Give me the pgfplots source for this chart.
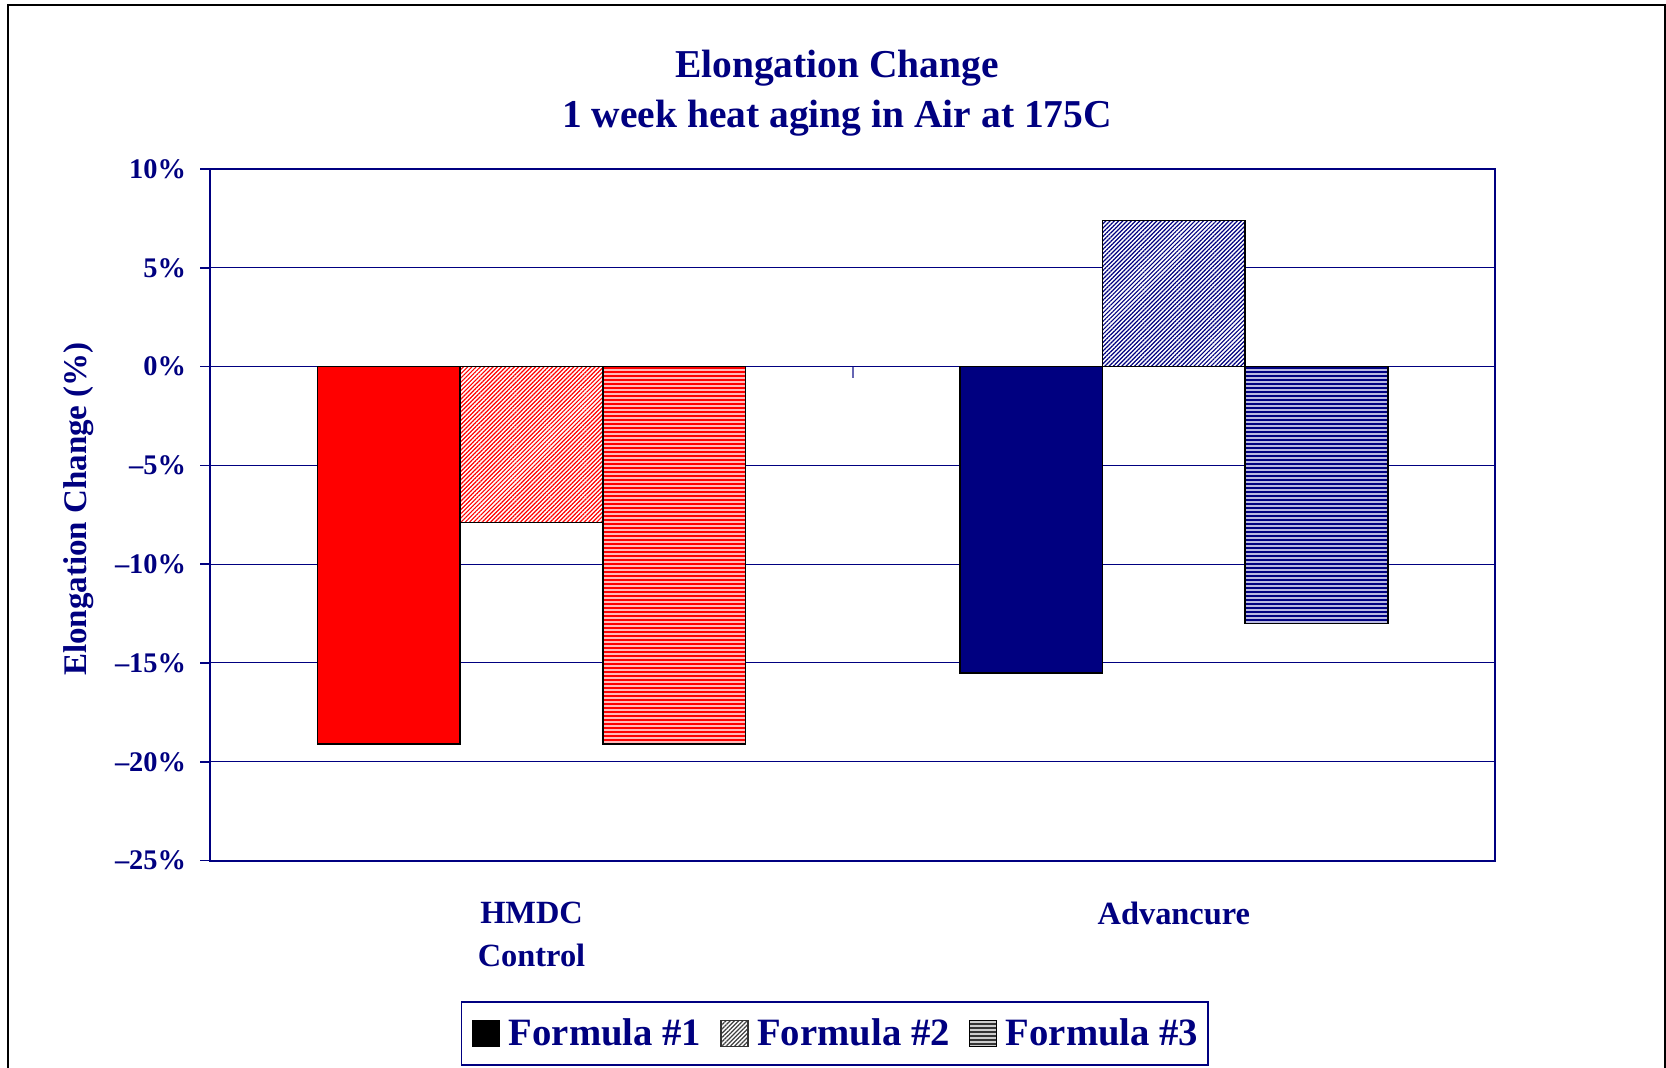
\documentclass[border=0pt]{standalone}
\usepackage{fontspec}
\setmainfont{Liberation Serif}
\usepackage{pgfplots}
\pgfplotsset{compat=1.18}
\usetikzlibrary{patterns.meta}
\definecolor{navy}{RGB}{0,0,128}
\definecolor{pinkbg}{RGB}{255,185,185}
\definecolor{lavbg}{RGB}{185,185,225}
\tikzset{
  diagpat/.style={pattern={Lines[angle=45,distance=1.5pt,line width=0.6pt]}},
  horizpat/.style={pattern={Lines[angle=0,distance=2pt,line width=0.9pt]}},
}
\begin{document}
\begin{tikzpicture}
\draw[black, line width=0.75pt] (4pt,-10pt) -- (4pt,531.5pt) -- (832.6pt,531.5pt) -- (832.6pt,-10pt);
\node[anchor=base, text=navy, font=\fontsize{19.75}{24}\selectfont\bfseries] at (418.5pt,495.25pt) {Elongation Change};
\node[anchor=base, text=navy, font=\fontsize{19.75}{24}\selectfont\bfseries] at (418.5pt,470.25pt) {1 week heat aging in Air at 175C};
\node[rotate=90, anchor=base, text=navy, inner sep=0pt, font=\fontsize{16.5}{20}\selectfont\bfseries] at (43pt,279.5pt) {Elongation Change (\%)};
\begin{axis}[
  at={(105.2pt,103.7pt)}, anchor=south west,
  scale only axis, width=642.3pt, height=345.8pt,
  xmin=-0.5, xmax=1.5, ymin=-25, ymax=10,
  ybar, bar width=0.2222,
  xtick={0,1}, xticklabels={{HMDC\\Control},{Advancure}},
  xtick style={draw=none}, xtick pos=bottom,
  xticklabel style={align=center, anchor=north, inner sep=0pt, yshift=-15.4pt, text=navy, font=\fontsize{16.2}{21.5}\selectfont\bfseries},
  ytick={-25,-20,...,10},
  yticklabels={--25\%,--20\%,--15\%,--10\%,--5\%,0\%,5\%,10\%},
  yticklabel style={anchor=east, inner sep=0pt, xshift=-7pt, text=navy, font=\fontsize{14.2}{16}\selectfont\bfseries},
  tick align=outside, major tick length=5pt, ytick pos=left,
  ytick style={navy, line width=0.75pt},
  ymajorgrids, major grid style={navy, line width=0.5pt},
  axis line style={navy, line width=1pt},
  legend columns=3,
  legend cell align=left,
  legend style={at={(axis description cs:0.4862,-0.25)}, anchor=center, draw=navy, line width=0.75pt,
    inner xsep=5pt, inner ysep=8.5pt,
    /tikz/every odd column/.append style={column sep=4.3pt},
    /tikz/every even column/.append style={column sep=9.5pt},
    nodes={inner sep=0pt, text height=13.5pt, text depth=1pt, text=navy, font=\fontsize{19.35}{22}\selectfont\bfseries}},
]
\addlegendimage{legend image code/.code={\draw[fill=black, draw=black, line width=0.75pt] (0pt,-6.5pt) rectangle (13.5pt,6.5pt);}}
\addlegendentry{Formula \#1}
\addlegendimage{legend image code/.code={\fill[white] (0pt,-6.5pt) rectangle (13.5pt,6.5pt); \fill[diagpat, pattern color=black!75] (0pt,-6.5pt) rectangle (13.5pt,6.5pt); \draw[black!80, line width=0.75pt] (0pt,-6.5pt) rectangle (13.5pt,6.5pt);}}
\addlegendentry{Formula \#2}
\addlegendimage{legend image code/.code={\fill[gray!40] (0pt,-6.5pt) rectangle (13.5pt,6.5pt); \fill[horizpat, pattern color=black!80] (0pt,-6.5pt) rectangle (13.5pt,6.5pt); \draw[black, line width=0.75pt] (0pt,-6.5pt) rectangle (13.5pt,6.5pt);}}
\addlegendentry{Formula \#3\hspace{3pt}}
% HMDC Control
\addplot[forget plot, bar shift=-0.2222, fill=red, draw=black, line width=0.8pt] coordinates {(0,-19.1)};
\addplot[forget plot, bar shift=0, fill=white, draw=none] coordinates {(0,-7.9)};
\addplot[forget plot, bar shift=0, diagpat, pattern color=red, draw=black, line width=0.8pt] coordinates {(0,-7.9)};
\addplot[forget plot, bar shift=0.2222, fill=pinkbg, draw=none] coordinates {(0,-19.1)};
\addplot[forget plot, bar shift=0.2222, horizpat, pattern color=red, draw=black, line width=0.8pt] coordinates {(0,-19.1)};
% Advancure
\addplot[forget plot, bar shift=-0.2222, fill=navy, draw=black, line width=0.8pt] coordinates {(1,-15.5)};
\addplot[forget plot, bar shift=0, fill=white, draw=none] coordinates {(1,7.4)};
\addplot[forget plot, bar shift=0, diagpat, pattern color=navy, draw=black, line width=0.8pt] coordinates {(1,7.4)};
\addplot[forget plot, bar shift=0.2222, fill=lavbg, draw=none] coordinates {(1,-13.0)};
\addplot[forget plot, bar shift=0.2222, horizpat, pattern color=navy, draw=black, line width=0.8pt] coordinates {(1,-13.0)};
\draw[navy!60, line width=1pt] (axis cs:0.5,0) -- ([yshift=-5.5pt]axis cs:0.5,0);
\end{axis}
\pgfresetboundingbox
\path[use as bounding box] (0pt,0pt) rectangle (833pt,534pt);
\end{tikzpicture}
\end{document}
